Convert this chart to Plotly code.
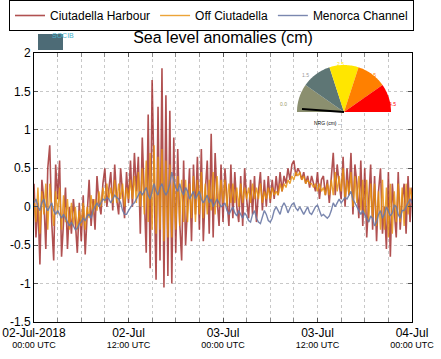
import plotly.graph_objects as go
import pandas as pd
import math

# ---------------- data (15-min samples, 02-Jul-2018 00:00 .. 04-Jul-2018 00:00 UTC)
start_time = "2018-07-02 00:00"
step = "15min"

ciutadella_harbour = [
    0.3, -0.4, 0.05, -0.75,  0.35, 0.1, -0.55, 0.5,  0.8, -0.2, -0.7, 0.55,  0.1, 0.6, -0.65, -0.2,
    0.25, -0.55, 0.0, -0.35,  0.1, -0.2, -0.6, 0.05,  -0.45, 0.15, -0.62, -0.1,  0.35, -0.25, 0.1, -0.3,
    0.4, 0.05, -0.1, 0.3,  0.5, 0.0, 0.2, 0.45,  -0.05, 0.55, 0.1, -0.1,  0.5, 0.2, -0.15, 0.45,
    0.05, 0.6, 0.0, 0.7,  0.2, 0.65, -0.35, 0.9,  0.1, -0.6, 1.2, -0.8,  1.65, 0.3, -0.95, 1.3,
    -0.7, 1.8, -1.05, 1.45,  -0.9, 1.25, -1.0, 0.9,  -0.6, 0.75, -0.2, -0.7,  0.6, -0.5, 0.1, 0.5,
    -0.45, 0.55, -0.1, 0.65,  -0.3, 0.75, -0.45, 0.2,  0.6, -0.35, 0.95, -0.4,  0.7, 0.1, -0.25, 0.55,
    -0.2, 0.5, 0.1, -0.25,  0.55, -0.15, 0.45, 0.0,  -0.2, 0.4, -0.25, 0.5,  0.1, -0.15, 0.35, -0.1,
    0.4, -0.2, 0.2, 0.45,  -0.05, 0.35, 0.0, 0.4,  0.05, 0.35, 0.1, 0.4,  0.15, 0.45, 0.2, 0.4,
    0.3, 0.5, 0.35, 0.55,  0.6, 0.4, 0.5, 0.45,  0.35, 0.45, 0.3, 0.4,  0.25, 0.4, 0.3, 0.2,
    0.45, 0.1, 0.35, 0.4,  0.15, 0.35, 0.05, 0.45,  0.7, 0.15, 0.55, 0.3,  0.1, 0.65, 0.0, 0.5,
    0.15, 0.7, -0.1, 0.55,  0.3, -0.15, 0.6, -0.25,  0.5, -0.4, 0.1, 0.55,  -0.3, 0.4, -0.45, 0.2,
    0.5, -0.35, 0.0, -0.55,  0.45, -0.65, 0.3, -0.1,  -0.4, 0.45, -0.3, 0.1,  0.3, -0.35, 0.4, -0.2,
    0.25,
]

off_ciutadella = [
    0.1, -0.2, 0.25, -0.35,  0.2, -0.1, 0.3, -0.3,  0.3, 0.0, -0.25, 0.2,  -0.1, 0.25, -0.3, 0.15,
    -0.2, 0.1, -0.3, 0.05,  -0.25, 0.0, -0.3, -0.05,  -0.25, 0.05, -0.3, 0.0,  -0.15, 0.15, -0.1, 0.1,
    -0.05, 0.2, 0.0, 0.25,  0.05, 0.3, 0.1, 0.25,  0.05, 0.35, 0.05, 0.3,  0.1, 0.3, 0.0, 0.25,
    0.1, 0.35, 0.1, 0.4,  0.05, 0.45, 0.0, 0.5,  -0.1, 0.6, -0.2, 0.7,  -0.3, 0.8, -0.35, 0.65,
    -0.3, 0.75, -0.45, 0.6,  -0.4, 0.55, -0.4, 0.4,  -0.3, 0.4, -0.25, 0.35,  -0.2, 0.35, -0.2, 0.3,
    -0.15, 0.4, -0.2, 0.35,  -0.1, 0.45, -0.15, 0.3,  -0.1, 0.35, -0.05, 0.45,  -0.1, 0.4, 0.0, 0.35,
    0.05, 0.35, 0.0, 0.3,  0.05, 0.3, 0.05, 0.25,  0.0, 0.3, 0.05, 0.25,  0.1, 0.25, 0.05, 0.3,
    0.1, 0.25, 0.1, 0.3,  0.05, 0.2, 0.1, 0.25,  0.1, 0.25, 0.15, 0.2,  0.15, 0.3, 0.2, 0.3,
    0.25, 0.35, 0.3, 0.4,  0.35, 0.45, 0.4, 0.45,  0.35, 0.4, 0.3, 0.35,  0.3, 0.3, 0.25, 0.3,
    0.2, 0.3, 0.2, 0.25,  0.15, 0.3, 0.15, 0.35,  0.15, 0.45, 0.2, 0.4,  0.2, 0.5, 0.1, 0.35,
    0.15, 0.45, 0.0, 0.4,  0.05, 0.4, -0.05, 0.35,  -0.1, 0.35, -0.2, 0.3,  -0.15, 0.3, -0.25, 0.2,
    -0.3, 0.35, -0.3, 0.25,  -0.4, 0.3, -0.35, 0.2,  -0.2, 0.3, -0.2, 0.25,  -0.25, 0.3, -0.1, 0.25,
    0.1,
]

menorca_channel = [
    0.05, 0.1, 0.0, -0.05,  0.05, 0.1, 0.0, -0.05,  0.0, 0.05, -0.05, -0.1,  -0.05, -0.1, -0.15, -0.1,
    -0.15, -0.2, -0.25, -0.2,  -0.25, -0.3, -0.28, -0.22,  -0.2, -0.15, -0.18, -0.12,  -0.1, -0.15, -0.05, 0.0,
    0.05, 0.0, 0.05, 0.1,  0.08, 0.12, 0.1, 0.05,  0.1, 0.15, 0.12, 0.1,  0.05, -0.05, -0.1, -0.1,
    -0.05, 0.0, 0.03, 0.05,  0.1, 0.15, 0.2, 0.15,  0.2, 0.25, 0.15, 0.1,  0.2, 0.3, 0.2, 0.15,
    0.25, 0.3, 0.2, 0.15,  0.2, 0.3, 0.45, 0.35,  0.25, 0.2, 0.3, 0.2,  0.15, 0.25, 0.2, 0.1,
    0.15, 0.2, 0.1, 0.15,  0.2, 0.1, 0.05, 0.1,  0.15, 0.05, 0.1, 0.0,  0.05, 0.1, 0.05, 0.0,
    0.02, 0.05, -0.05, -0.1,  -0.05, 0.0, -0.08, -0.12,  -0.05, -0.1, -0.15, -0.08,  -0.12, -0.18, -0.2, -0.1,
    -0.05, -0.15, -0.2, -0.22,  -0.12, -0.05, -0.1, -0.18,  -0.2, -0.15, -0.05, 0.0,  -0.05, -0.1, 0.0, 0.05,
    0.0, -0.08, -0.02, 0.03,  0.05, -0.02, -0.05, 0.0,  -0.05, -0.1, -0.05, 0.0,  -0.08, -0.1, -0.05, 0.0,
    0.02, -0.05, -0.12, -0.1,  -0.12, -0.15, -0.12, -0.05,  0.05, 0.0, 0.05, 0.1,  0.05, 0.08, 0.12, 0.1,
    0.15, 0.2, 0.1, 0.05,  0.0, -0.05, -0.1, -0.05,  -0.1, -0.15, -0.2, -0.12,  -0.15, -0.25, -0.2, -0.1,
    -0.05, -0.15, -0.1, 0.0,  -0.05, -0.12, -0.08, 0.02,  0.0, -0.1, -0.15, -0.05,  -0.05, 0.0, 0.05, 0.1,
    0.05,
]

series_names = ["Ciutadella Harbour", "Off Ciutadella", "Menorca Channel"]

x_tick_values = ["2018-07-02 00:00", "2018-07-02 12:00", "2018-07-03 00:00",
                 "2018-07-03 12:00", "2018-07-04 00:00"]
x_tick_dates = ["02-Jul-2018", "02-Jul", "03-Jul", "03-Jul", "04-Jul"]
x_tick_times = ["00:00 UTC", "12:00 UTC", "00:00 UTC", "12:00 UTC", "00:00 UTC"]

y_tick_values = [-1.5, -1, -0.5, 0, 0.5, 1, 1.5, 2]
y_tick_labels = ["-1.5", "-1", "-0.5", "0", "0.5", "1", "1.5", "2"]

# ---------------- figure
times = pd.date_range(start_time, periods=len(ciutadella_harbour), freq=step)

styles = [
    dict(color="#9e2626", width=1.6, opacity=0.8),
    dict(color="#e8900c", width=1.4, opacity=0.82),
    dict(color="#6c7aa6", width=1.4, opacity=0.9),
]

fig = go.Figure()
for name, values, st in zip(series_names,
                            [ciutadella_harbour, off_ciutadella, menorca_channel],
                            styles):
    fig.add_trace(go.Scatter(
        x=times, y=values, mode="lines", name=name,
        line=dict(color=st["color"], width=st["width"]),
        opacity=st["opacity"],
    ))

# empty helper trace so the second (time-of-day) label axis is drawn
fig.add_trace(go.Scatter(x=[x_tick_values[0], x_tick_values[-1]], y=[None, None],
                         xaxis="x2", mode="lines", showlegend=False, hoverinfo="skip"))

FONT = "Liberation Sans, Arial, sans-serif"
W, H = 441, 359
L, R, T, B = 34, 29, 53, 37
PW, PH = W - L - R, H - T - B


def px(X):
    return (X - L) / PW


def py(Y):
    return (H - B - Y) / PH


def sector(cx, cy, r, a0, a1, n=24):
    pts = [(cx, cy)]
    for i in range(n + 1):
        a = math.radians(a0 + (a1 - a0) * i / n)
        pts.append((cx + r * math.cos(a), cy - r * math.sin(a)))
    return "M " + " L ".join(f"{px(a):.5f},{py(b):.5f}" for a, b in pts) + " Z"


shapes = []
gauge_cx, gauge_cy, gauge_r = 344, 112, 47
gauge_parts = [(145, 180, "#8b8f6f"), (108, 145, "#5e7675"), (72, 108, "#ffe600"),
               (35, 72, "#ff8000"), (0, 35, "#ff0000")]
for a0, a1, col in gauge_parts:
    shapes.append(dict(type="path", xref="paper", yref="paper",
                       path=sector(gauge_cx, gauge_cy, gauge_r, a0, a1),
                       fillcolor=col, line=dict(width=0), layer="above"))
shapes.append(dict(type="line", xref="paper", yref="paper",
                   x0=px(gauge_cx), y0=py(gauge_cy), x1=px(gauge_cx - 42), y1=py(gauge_cy - 3),
                   line=dict(color="black", width=2), layer="above"))
shapes.append(dict(type="rect", xref="paper", yref="paper",
                   x0=px(38), x1=px(63), y0=py(50), y1=py(34),
                   fillcolor="#4d6b76", line=dict(width=0)))

annotations = [
    dict(text="SOCIB", xref="paper", yref="paper", x=px(50), y=py(30),
         showarrow=False, font=dict(size=7, color="#49b3cc", family=FONT)),
    dict(text="NRG (cm) ...", xref="paper", yref="paper", x=px(344), y=py(118),
         showarrow=False, font=dict(size=5, color="black", family=FONT)),
    dict(text="2.5", xref="paper", yref="paper", x=px(346), y=py(59),
         showarrow=False, font=dict(size=5, color="#ffe600", family=FONT)),
    dict(text="1.5", xref="paper", yref="paper", x=px(311), y=py(70),
         showarrow=False, font=dict(size=5, color="#999999", family=FONT)),
    dict(text="3.5", xref="paper", yref="paper", x=px(378), y=py(70),
         showarrow=False, font=dict(size=5, color="#ff8000", family=FONT)),
    dict(text="0.0", xref="paper", yref="paper", x=px(289), y=py(99),
         showarrow=False, font=dict(size=5, color="#999966", family=FONT)),
    dict(text="4.5", xref="paper", yref="paper", x=px(398), y=py(99),
         showarrow=False, font=dict(size=5, color="#ff0000", family=FONT)),
]

fig.update_layout(
    width=W, height=H,
    margin=dict(l=L, r=R, t=T, b=B, pad=0, autoexpand=False),
    paper_bgcolor="white", plot_bgcolor="white",
    font=dict(family=FONT, size=12, color="black"),
    title=dict(text="Sea level anomalies (cm)", x=223 / W, xref="container",
               xanchor="center", y=1 - 37 / H, yref="container", yanchor="middle",
               font=dict(size=16, family=FONT, color="black")),
    showlegend=True,
    legend=dict(orientation="h", x=px(414), xanchor="right", xref="paper",
                y=py(0), yanchor="top", yref="paper",
                bordercolor="black", borderwidth=1, bgcolor="white",
                font=dict(size=12, family=FONT), itemwidth=30,
                tracegroupgap=0),
    shapes=shapes,
    annotations=annotations,
    xaxis=dict(
        type="date",
        range=[x_tick_values[0], x_tick_values[-1]],
        tickmode="array", tickvals=x_tick_values, ticktext=x_tick_dates,
        ticks="inside", ticklen=4, tickcolor="#555555",
        showline=True, linecolor="black", linewidth=1, mirror="ticks",
        showgrid=True, gridcolor="#c8c8c8", griddash="dot", gridwidth=1,
        minor=dict(dtick=3 * 3600 * 1000, showgrid=True, gridcolor="#c8c8c8",
                   griddash="dot", ticks="inside", ticklen=4, tickcolor="#888888"),
        tickfont=dict(size=12, family=FONT),
        zeroline=False, automargin=False,
    ),
    xaxis2=dict(
        type="date", overlaying="x", side="bottom", anchor="y",
        range=[x_tick_values[0], x_tick_values[-1]],
        tickmode="array", tickvals=x_tick_values, ticktext=x_tick_times,
        ticks="", showline=False, showgrid=False, zeroline=False,
        tickfont=dict(size=9, family=FONT), ticklabelstandoff=16,
        automargin=False,
    ),
    yaxis=dict(
        range=[-1.5, 2],
        tickmode="array", tickvals=y_tick_values, ticktext=y_tick_labels,
        ticks="inside", ticklen=4, tickcolor="#555555",
        showline=True, linecolor="black", linewidth=1, mirror="ticks",
        showgrid=True, gridcolor="#c8c8c8", griddash="dot", gridwidth=1,
        tickfont=dict(size=12, family=FONT),
        zeroline=False, automargin=False,
    ),
)

fig.write_html("out.html", config={"displayModeBar": False},
               post_script="document.body.style.margin='0';document.body.style.overflow='hidden';")
